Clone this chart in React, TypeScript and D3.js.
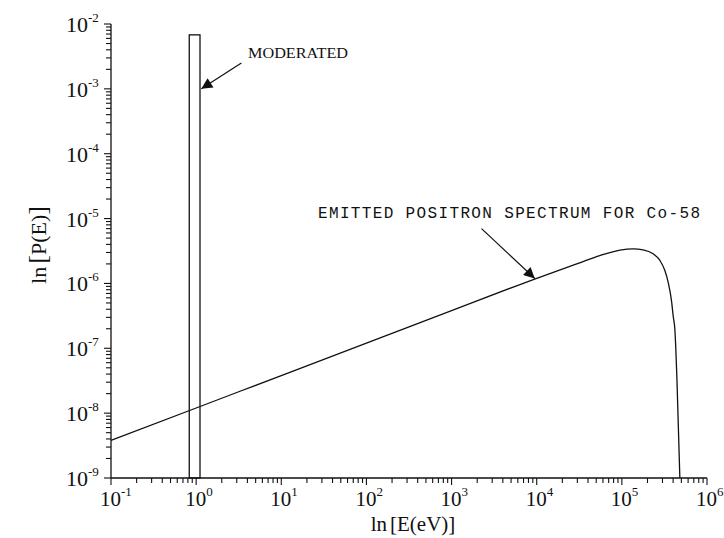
import React from "react"
import * as d3 from "d3"

// emitted positron spectrum for Co-58
const energies = [
  0.1, 1, 10, 100, 1e3, 1e4, 3.2e4, 5.5e4, 9.5e4, 1.36e5, 1.78e5, 2.33e5, 2.8e5, 3.2e5, 3.5e5, 3.85e5, 4.0e5, 4.2e5,
  4.44e5, 4.8e5,
]
const probs = [
  3.8e-9, 1.2e-8, 3.8e-8, 1.2e-7, 3.8e-7, 1.2e-6, 2.08e-6, 2.68e-6, 3.27e-6, 3.42e-6, 3.3e-6, 2.86e-6, 2.26e-6, 1.58e-6,
  1.04e-6, 5.1e-7, 3.2e-7, 1.9e-7, 3.2e-8, 1.0e-9,
]

// moderated positron bin
const moderatedBin = [0.83, 1.11]
const moderatedHeight = 6.8e-3

// annotations: [tailE, tailP, tipE, tipP]
const moderatedArrow = [3.4, 2.5e-3, 1.15, 1.0e-3]
const spectrumArrow = [2.25e3, 7.0e-6, 9.5e3, 1.19e-6]

const xDomain = [1e-1, 1e6]
const yDomain = [1e-9, 1e-2]

const W = 724
const H = 538
const margin = { left: 111, right: 17, top: 24, bottom: 60 }

const serif = "'Liberation Serif', 'Times New Roman', serif"
const mono = "'Liberation Mono', 'Courier New', monospace"

const App: React.FC = () => {
  const x = d3.scaleLog().domain(xDomain).range([margin.left, W - margin.right])
  const y = d3.scaleLog().domain(yDomain).range([H - margin.bottom, margin.top])

  const isMajor = (v: number) => Math.abs(Math.log10(v) - Math.round(Math.log10(v))) < 1e-6
  const xTicks = x.ticks()
  const yTicks = y.ticks()

  const line = d3
    .line<number>()
    .x((_, i) => x(energies[i]))
    .y((d) => y(d))
    .curve(d3.curveMonotoneX)

  const x0 = x.range()[0]
  const y0 = y.range()[0]

  const arrow = (a: number[], id: string) => (
    <line
      key={id}
      x1={x(a[0])}
      y1={y(a[1])}
      x2={x(a[2])}
      y2={y(a[3])}
      stroke="#111"
      strokeWidth={1.2}
      markerEnd="url(#head)"
    />
  )

  return (
    <svg width={W} height={H} style={{ position: "absolute", left: 0, top: 0, background: "#fff" }}>
      <defs>
        <marker id="head" viewBox="0 0 10 10" refX="10" refY="5" markerWidth="13" markerHeight="11" markerUnits="userSpaceOnUse" orient="auto">
          <path d="M0,0 L10,5 L0,10 z" fill="#111" />
        </marker>
      </defs>

      {/* moderated bin */}
      <rect
        x={x(moderatedBin[0])}
        y={y(moderatedHeight)}
        width={x(moderatedBin[1]) - x(moderatedBin[0])}
        height={y0 - y(moderatedHeight)}
        fill="none"
        stroke="#111"
        strokeWidth={1.3}
      />

      {/* spectrum */}
      <path d={line(probs) ?? ""} fill="none" stroke="#111" strokeWidth={1.3} />

      {/* axes */}
      <line x1={x0} x2={x.range()[1]} y1={y0} y2={y0} stroke="#111" strokeWidth={1.3} />
      <line x1={x0} x2={x0} y1={y0} y2={y.range()[1]} stroke="#111" strokeWidth={1.3} />

      {xTicks.map((t, i) => (
        <line key={"xt" + i} x1={x(t)} x2={x(t)} y1={y0} y2={y0 + (isMajor(t) ? 7 : 5)} stroke="#111" strokeWidth={1.1} />
      ))}
      {yTicks.map((t, i) => (
        <line key={"yt" + i} x1={x0} x2={x0 - (isMajor(t) ? 7 : 5)} y1={y(t)} y2={y(t)} stroke="#111" strokeWidth={1.1} />
      ))}

      {xTicks.filter(isMajor).map((t, i) => (
        <text key={"xl" + i} x={x(t) - 11} y={y0 + 28} fontFamily={serif} fontSize={21} fill="#111">
          10
          <tspan fontSize={13} dy={-10}>
            {Math.round(Math.log10(t))}
          </tspan>
        </text>
      ))}
      {yTicks.filter(isMajor).map((t, i) => (
        <text key={"yl" + i} x={66} y={y(t) + 8} fontFamily={serif} fontSize={22} fill="#111">
          10
          <tspan fontSize={13} dy={-10}>
            {Math.round(Math.log10(t))}
          </tspan>
        </text>
      ))}

      {/* axis titles */}
      <text x={(x0 + x.range()[1]) / 2 + 4} y={531} textAnchor="middle" fontFamily={serif} fontSize={21} fill="#111">
        ln<tspan dx={3}>[</tspan>E(eV)<tspan>]</tspan>
      </text>
      <text
        transform={`translate(46, ${(y0 + y.range()[1]) / 2 - 6}) rotate(-90)`}
        textAnchor="middle"
        fontFamily={serif}
        fontSize={22}
        fill="#111"
      >
        ln<tspan fontSize={26} dx={3}>[</tspan>P(E)<tspan fontSize={26}>]</tspan>
      </text>

      {/* annotations */}
      {arrow(moderatedArrow, "a1")}
      {arrow(spectrumArrow, "a2")}
      <text x={248} y={58} fontFamily={serif} fontSize={15} textLength={100} lengthAdjust="spacingAndGlyphs" fill="#111">
        MODERATED
      </text>
      <text x={318} y={218} fontFamily={mono} fontSize={16} textLength={382} lengthAdjust="spacing" fill="#111">
        EMITTED POSITRON SPECTRUM FOR Co-58
      </text>
    </svg>
  )
}

export default App
